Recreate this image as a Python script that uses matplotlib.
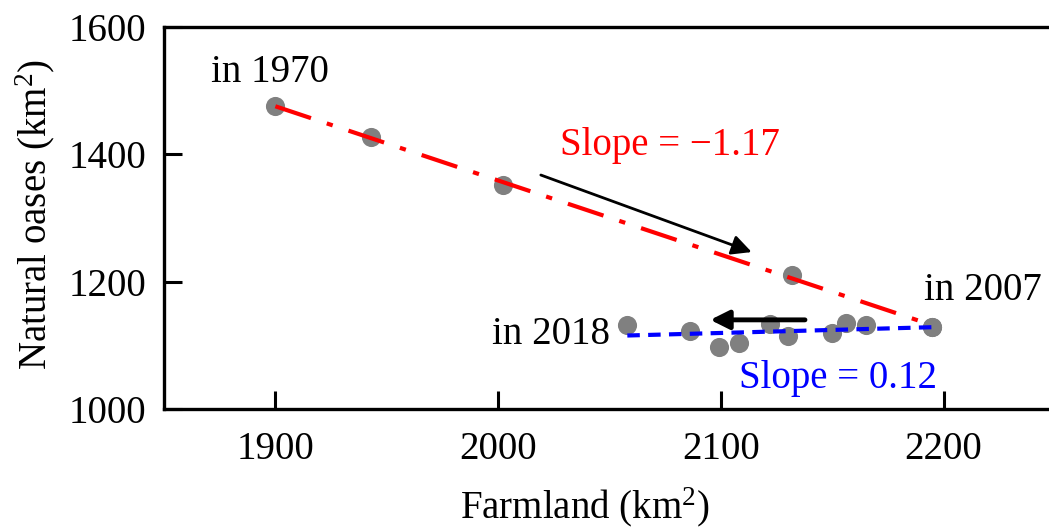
import numpy as np
import matplotlib
matplotlib.use("Agg")
import matplotlib.pyplot as plt

plt.rcParams['font.family'] = ['Liberation Serif', 'DejaVu Serif']
plt.rcParams['mathtext.fontset'] = 'custom'
plt.rcParams['mathtext.rm'] = 'Liberation Serif'
plt.rcParams['mathtext.default'] = 'regular'

# 1970 -> 2007 (farmland grows, natural oases shrink)
farm_a = [1900, 1943, 2002, 2132, 2195]
oasis_a = [1476, 1427, 1352, 1210, 1129]

# 2007 -> 2018
farm_b = [2195, 2165, 2156, 2150, 2130, 2122, 2108, 2099, 2086, 2058]
oasis_b = [1129, 1132, 1135, 1120, 1115, 1134, 1103, 1097, 1123, 1132]

xticks = [1900, 2000, 2100, 2200]
yticks = [1000, 1200, 1400, 1600]

fig = plt.figure(figsize=(10.49, 5.31), dpi=100)
ax = fig.add_axes([164/1049, 1-409/531, 891/1049, 382/531])

ax.scatter(farm_a + farm_b, oasis_a + oasis_b, s=190, color='#808080', zorder=2, linewidths=0)

# linear fits
k1, b1 = np.polyfit(farm_a, oasis_a, 1)
xa = np.array([min(farm_a), max(farm_a)])
ax.plot(xa, k1*xa + b1, color='red', lw=3, dashes=(9, 4, 1.5, 4), zorder=3)

k2, b2 = np.polyfit(farm_b, oasis_b, 1)
xb = np.array([min(farm_b), max(farm_b)])
ax.plot(xb, k2*xb + b2, color='blue', lw=3, dashes=(3, 2), zorder=3)

# arrows
ax.annotate('', xy=(2115, 1245), xytext=(2018, 1369),
            arrowprops=dict(arrowstyle='-|>', color='black', lw=2, mutation_scale=30))
ax.annotate('', xy=(2094, 1140), xytext=(2139, 1140),
            arrowprops=dict(arrowstyle='-|>', color='black', lw=3.5, mutation_scale=28))

fs = 28
ax.text(1871, 1514, 'in 1970', fontsize=fs, va='baseline')
ax.text(2191, 1171, 'in 2007', fontsize=fs, va='baseline')
ax.text(2050, 1102, 'in 2018', fontsize=fs, va='baseline', ha='right')
ax.text(2028, 1399, 'Slope = \u22121.17', fontsize=fs, va='baseline', color='red')
ax.text(2108, 1033, 'Slope = 0.12', fontsize=fs, va='baseline', color='blue')

ax.set_xlim(1850, 2250)
ax.set_ylim(1000, 1600)
ax.set_xticks(xticks)
ax.set_yticks(yticks)
ax.tick_params(direction='in', length=13, width=2.2, labelsize=fs)
ax.tick_params(axis='x', pad=16)
ax.tick_params(axis='y', pad=13)
for s in ['left', 'bottom', 'top']:
    ax.spines[s].set_linewidth(2.4)
ax.spines['right'].set_visible(False)

fig.text(585/1049, 1-518/531, 'Farmland (km$^2$)', fontsize=fs, ha='center', va='baseline')
fig.text(35/1049, 1-215/531, 'Natural oases (km$^2$)', fontsize=fs, ha='center', va='center',
         rotation=90)

fig.savefig('out.png', dpi=100)
